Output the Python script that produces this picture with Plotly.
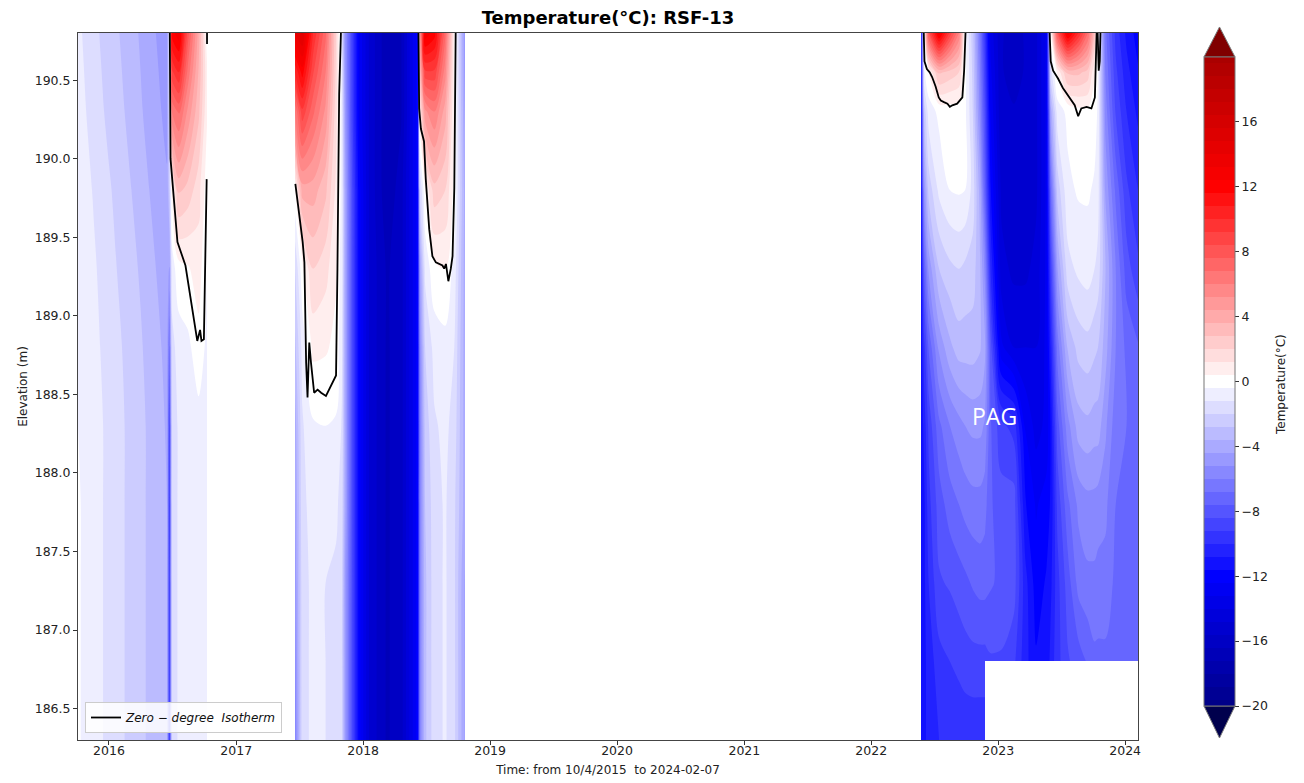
import numpy as np
import pandas as pd
import plotly.graph_objects as go

# ---------------- data ----------------
ELEV = [190.8, 190.55, 190.3, 189.8, 189.3, 188.8, 188.3, 187.8, 187.3, 186.8, 186.3]
ELEV_UPPER = [190.8, 190.55, 190.3, 189.8, 189.3, 188.8, 188.3, 187.8, 187.3, 186.8]

# Segment 1: 2015-10-04 .. 2016-10-10 (profiles top -> bottom at ELEV)
SEG1_DATES = ['2015-10-04', '2015-11-20', '2016-01-01', '2016-02-15', '2016-04-01',
              '2016-05-15', '2016-06-16', '2016-06-23', '2016-06-30', '2016-07-20',
              '2016-08-15', '2016-09-15', '2016-10-10']
SEG1_PROFILES = [
    [-1.0, -0.9, -0.8, -0.6, -0.5, -0.4, -0.4, -0.3, -0.3, -0.3, -0.3],
    [-1.8, -1.7, -1.6, -1.3, -1.1, -1.0, -0.9, -0.9, -0.9, -0.9, -0.9],
    [-2.4, -2.3, -2.2, -1.9, -1.7, -1.5, -1.4, -1.4, -1.4, -1.4, -1.4],
    [-3.0, -2.9, -2.8, -2.5, -2.3, -2.1, -2.0, -2.0, -2.0, -2.0, -2.0],
    [-3.7, -3.6, -3.5, -3.2, -2.9, -2.7, -2.6, -2.6, -2.6, -2.6, -2.6],
    [-4.4, -4.3, -4.2, -3.9, -3.6, -3.4, -3.2, -3.2, -3.2, -3.2, -3.2],
    [-4.8, -4.7, -4.6, -4.3, -4.0, -3.8, -3.7, -3.6, -3.6, -3.6, -3.6],
    [-1.0, -1.2, -1.5, -2.5, -4.5, -7.0, -9.0, -9.5, -9.5, -9.5, -9.5],
    [12.0, 9.0, 6.0, 0.5, -0.8, -1.5, -2.0, -2.0, -2.0, -2.0, -2.0],
    [13.0, 10.0, 7.0, 3.0, 0.1, -0.8, -1.0, -1.0, -1.0, -1.0, -1.0],
    [8.0, 6.5, 5.0, 2.5, 0.3, -0.6, -0.9, -0.9, -0.9, -0.9, -0.9],
    [4.0, 3.5, 3.0, 1.5, 0.8, 0.1, -0.7, -0.8, -0.8, -0.8, -0.8],
    [-0.2, 0.6, 0.5, -0.1, -0.4, -0.6, -0.7, -0.8, -0.8, -0.8, -0.8],
]

# Segment 2: 2017-06-20 .. 2018-10-21
SEG2_DATES = ['2017-06-20', '2017-07-10', '2017-08-10', '2017-09-15', '2017-10-15',
              '2017-11-01', '2017-11-10', '2017-12-01', '2017-12-20', '2018-01-20',
              '2018-03-10', '2018-04-20', '2018-05-20', '2018-06-07', '2018-06-13',
              '2018-06-28', '2018-07-25', '2018-08-25', '2018-09-20', '2018-10-21']
SEG2_PROFILES = [
    [14.0, 10.0, 6.0, 0.3, -2.0, -3.0, -4.0, -4.5, -5.0, -5.5, -6.0],
    [15.0, 12.0, 9.0, 4.0, 0.2, -0.9, -1.3, -1.4, -1.5, -1.5, -1.5],
    [10.0, 8.5, 7.0, 4.0, 2.0, 0.6, -0.5, -0.9, -1.0, -1.0, -1.0],
    [7.0, 6.0, 5.0, 3.0, 1.5, 0.5, -0.4, -0.9, -1.2, -1.2, -1.2],
    [2.0, 1.8, 1.5, 1.0, 0.5, 0.2, -0.5, -1.0, -1.4, -1.6, -1.6],
    [-1.5, -1.2, -1.0, -0.8, -0.9, -1.1, -1.3, -1.6, -1.9, -2.0, -2.0],
    [-5.0, -4.8, -4.5, -4.0, -4.0, -4.0, -4.0, -4.0, -4.5, -4.5, -4.5],
    [-9.0, -9.0, -9.0, -8.5, -8.5, -8.5, -8.5, -8.5, -8.5, -8.5, -8.5],
    [-12.5, -12.5, -12.5, -12.0, -12.0, -12.0, -12.0, -12.0, -12.0, -12.0, -12.0],
    [-15.0, -15.0, -15.0, -15.0, -15.0, -15.0, -15.0, -15.0, -15.0, -15.0, -15.0],
    [-17.0, -17.0, -17.0, -17.0, -16.5, -16.5, -16.5, -16.5, -16.5, -16.5, -16.5],
    [-16.5, -16.5, -16.5, -16.0, -16.0, -16.0, -16.0, -16.0, -16.0, -16.0, -16.0],
    [-13.5, -13.5, -13.5, -13.5, -13.5, -13.5, -13.5, -13.5, -13.5, -13.5, -13.5],
    [-12.0, -12.0, -12.0, -12.0, -12.0, -12.0, -12.0, -12.0, -12.0, -12.0, -12.0],
    [5.0, 3.0, 1.0, -2.0, -4.5, -5.5, -6.0, -6.0, -6.0, -6.0, -6.0],
    [13.0, 9.0, 5.0, 0.3, -1.0, -2.0, -2.5, -2.8, -3.0, -3.0, -3.0],
    [12.0, 9.0, 6.0, 2.5, 0.2, -0.9, -1.3, -1.5, -1.5, -1.5, -1.5],
    [7.0, 5.5, 4.0, 2.0, 0.4, -0.7, -1.0, -1.1, -1.1, -1.1, -1.1],
    [0.5, 0.4, 0.3, 0.1, -0.7, -1.2, -1.5, -1.8, -1.8, -1.8, -1.8],
    [-5.0, -4.8, -4.5, -4.0, -4.0, -4.0, -4.0, -4.0, -4.5, -4.5, -4.5],
]

# Segment 3a: 2022-05-25 .. 2022-11-23, full depth
SEG3A_DATES = ['2022-05-25', '2022-06-02', '2022-06-15', '2022-07-15', '2022-08-15',
               '2022-09-10', '2022-09-28', '2022-10-20', '2022-11-10', '2022-11-23']
SEG3A_PROFILES = [
    [-11.5, -11.5, -11.5, -11.5, -11.5, -11.5, -11.5, -11.5, -11.5, -11.0, -11.0],
    [0.5, -0.5, -2.5, -5.0, -7.5, -9.5, -10.5, -11.0, -11.0, -11.0, -11.0],
    [8.0, 0.3, -0.8, -2.5, -5.0, -7.5, -9.0, -9.5, -10.0, -10.5, -10.5],
    [13.0, 3.0, -0.2, -1.0, -2.8, -5.0, -7.0, -8.0, -8.5, -9.5, -10.0],
    [9.0, 2.5, -0.1, -0.4, -2.2, -3.8, -6.0, -7.2, -8.3, -9.2, -9.8],
    [6.0, 2.0, -0.1, -0.3, -2.0, -3.2, -5.5, -6.8, -8.0, -9.0, -9.8],
    [-0.1, -0.1, -0.2, -0.4, -2.2, -3.2, -5.2, -6.5, -7.8, -8.8, -9.8],
    [-2.5, -2.2, -2.0, -1.5, -2.4, -3.2, -5.0, -6.3, -7.5, -8.7, -9.8],
    [-6.5, -6.0, -5.5, -4.0, -3.5, -3.5, -5.0, -6.3, -7.3, -8.7, -9.8],
    [-9.5, -9.0, -8.5, -7.5, -5.5, -4.2, -5.3, -6.5, -7.3, -8.7, -9.8],
]

# Segment 3b: 2022-11-23 .. 2024-02-07, down to 186.8 m only
SEG3B_DATES = ['2022-11-23', '2022-12-10', '2023-01-10', '2023-02-15', '2023-03-20',
               '2023-04-20', '2023-05-20', '2023-06-01', '2023-06-20', '2023-07-20',
               '2023-08-20', '2023-09-15', '2023-10-05', '2023-10-15', '2023-11-05',
               '2023-12-05', '2024-01-05', '2024-02-07']
SEG3B_PROFILES = [
    [-9.5, -9.0, -8.5, -7.5, -5.5, -4.2, -5.3, -6.5, -7.3, -8.7],
    [-13.5, -13.0, -12.5, -11.5, -10.0, -8.0, -7.5, -7.5, -7.5, -8.5],
    [-15.5, -15.5, -15.5, -15.0, -14.5, -13.0, -9.0, -8.0, -7.8, -8.5],
    [-16.0, -16.0, -15.5, -15.5, -15.0, -14.0, -9.5, -8.0, -8.0, -9.0],
    [-15.5, -15.5, -15.5, -15.0, -15.0, -14.0, -12.5, -11.5, -10.5, -10.5],
    [-15.0, -15.0, -15.0, -15.0, -14.5, -14.0, -13.5, -12.5, -12.0, -11.5],
    [-13.0, -13.0, -13.0, -13.0, -13.0, -13.0, -13.0, -12.0, -11.5, -11.5],
    [0.2, -1.5, -4.0, -7.0, -9.0, -10.5, -11.5, -11.5, -11.0, -10.5],
    [8.0, 0.5, -0.8, -2.5, -4.5, -6.5, -8.0, -9.0, -9.5, -9.5],
    [13.0, 3.0, -0.2, -0.6, -1.5, -3.5, -5.5, -7.0, -8.0, -8.5],
    [10.0, 3.0, 0.1, -0.3, -1.0, -2.5, -4.0, -5.8, -6.5, -8.0],
    [7.0, 2.5, 0.2, -0.3, -0.8, -2.3, -3.8, -5.5, -6.2, -7.5],
    [3.0, 0.5, -0.1, -0.5, -1.2, -2.6, -4.0, -5.5, -6.2, -7.0],
    [-0.3, -0.4, -0.5, -0.8, -1.5, -2.8, -4.0, -5.6, -6.3, -7.0],
    [-6.5, -6.0, -5.5, -4.5, -3.5, -4.0, -5.0, -5.8, -6.3, -7.0],
    [-9.5, -9.0, -8.5, -7.0, -6.0, -6.0, -6.5, -6.8, -7.0, -7.0],
    [-11.0, -10.5, -10.0, -9.0, -8.0, -7.0, -6.8, -6.8, -6.8, -7.0],
    [-12.0, -11.5, -11.0, -10.0, -9.0, -7.5, -7.0, -7.0, -7.0, -7.0],
]

# Zero-degree isotherm (separate pieces)
ISO_2016_X = ['2016-06-24', '2016-06-26', '2016-07-16', '2016-08-08', '2016-09-11',
              '2016-09-19', '2016-09-23', '2016-09-30', '2016-10-08']
ISO_2016_Y = [190.8, 190.0, 189.47, 189.32, 188.84, 188.91, 188.84, 188.85, 189.87]
ISO_2016B_X = ['2016-10-09', '2016-10-09']
ISO_2016B_Y = [190.8, 190.73]
ISO_2017_X = ['2017-06-20', '2017-07-11', '2017-07-16', '2017-07-21', '2017-07-25',
              '2017-07-30', '2017-08-04', '2017-08-13', '2017-08-23', '2017-09-02',
              '2017-09-16', '2017-09-30', '2017-10-15', '2017-10-19', '2017-10-24',
              '2017-10-29']
ISO_2017_Y = [189.84, 189.47, 189.34, 188.70, 188.48, 188.83, 188.70, 188.51, 188.53,
              188.51, 188.49, 188.55, 188.62, 189.30, 190.41, 190.8]
ISO_2018_X = ['2018-06-09', '2018-06-11', '2018-06-16', '2018-06-25', '2018-06-30',
              '2018-07-10', '2018-07-19', '2018-07-29', '2018-08-17', '2018-08-22',
              '2018-08-27', '2018-09-03', '2018-09-10', '2018-09-15', '2018-09-20',
              '2018-09-24']
ISO_2018_Y = [190.8, 190.32, 190.19, 190.11, 189.87, 189.55, 189.38, 189.34, 189.32,
              189.30, 189.33, 189.22, 189.30, 189.38, 189.81, 190.8]
ISO_2022_X = ['2022-06-01', '2022-06-03', '2022-06-10', '2022-06-18', '2022-06-25',
              '2022-07-05', '2022-07-14', '2022-07-20', '2022-07-29', '2022-08-08',
              '2022-08-15', '2022-08-22', '2022-09-05', '2022-09-20', '2022-09-25',
              '2022-09-29']
ISO_2022_Y = [190.8, 190.62, 190.57, 190.55, 190.52, 190.46, 190.39, 190.37, 190.36,
              190.35, 190.33, 190.34, 190.35, 190.39, 190.56, 190.8]
ISO_2023_X = ['2023-05-29', '2023-06-01', '2023-06-08', '2023-06-22', '2023-07-06',
              '2023-07-26', '2023-08-09', '2023-08-19', '2023-08-28', '2023-09-12',
              '2023-09-26', '2023-10-06', '2023-10-11']
ISO_2023_Y = [190.8, 190.62, 190.56, 190.51, 190.45, 190.39, 190.34, 190.27, 190.32,
              190.33, 190.32, 190.39, 190.8]
ISO_2023B_X = ['2023-10-14', '2023-10-17', '2023-10-20', '2023-10-22']
ISO_2023B_Y = [190.8, 190.56, 190.62, 190.8]

X_RANGE = ['2015-10-04', '2024-02-07']
Y_RANGE = [186.3, 190.8]
Y_TICKS = [186.5, 187.0, 187.5, 188.0, 188.5, 189.0, 189.5, 190.0, 190.5]
CB_TICKS = [-20, -16, -12, -8, -4, 0, 4, 8, 12, 16]

# ---------------- colours (matplotlib "seismic", norm -24..24) ----------------
SEISMIC = [(0.0, (0, 0, 77)), (0.25, (0, 0, 255)), (0.5, (255, 255, 255)),
           (0.75, (255, 0, 0)), (1.0, (128, 0, 0))]


def seismic(v):
    f = (v + 24.0) / 48.0
    f = min(max(f, 0.0), 1.0)
    for (f0, c0), (f1, c1) in zip(SEISMIC[:-1], SEISMIC[1:]):
        if f0 <= f <= f1:
            t = (f - f0) / (f1 - f0)
            c = [round(a + (b - a) * t) for a, b in zip(c0, c1)]
            return 'rgb(%d,%d,%d)' % tuple(c)
    return 'rgb(128,0,0)'


# 50 filled bands of 0.8 degC; plotly maps the fill colorscale onto -20 .. 20
LO, HI = -20.0, 20.0
stops = [LO, -12.0, 0.0, 12.0, HI]
colorscale = [[(v - LO) / (HI - LO), seismic(v)] for v in stops]
contours = dict(start=-19.6, end=19.6, size=0.8, coloring='fill', showlines=False)

# page offset of the plot div (body margin)
OFF = 8
W, H = 1304 - OFF, 783 - OFF
ML, MT = 78 - OFF, 33 - OFF
MR, MB = W - (1138 - OFF), H - (740 - OFF)
PW, PH = W - ML - MR, H - MT - MB


def px(xp):  # page pixel -> paper x
    return (xp - OFF - ML) / PW


def py(yp):  # page pixel -> paper y
    return (H - MB - (yp - OFF)) / PH


# align segment borders with whole screen pixels (avoids anti-aliasing seams)
T0, T1 = pd.Timestamp(X_RANGE[0]), pd.Timestamp(X_RANGE[1])
T_STEP = (T1 - T0) / PW
E_STEP = (Y_RANGE[1] - Y_RANGE[0]) / PH


def snap_dates(dates):
    out = list(dates)
    for i in (0, -1):
        t = pd.Timestamp(out[i])
        k = round((t - T0) / T_STEP)
        out[i] = (T0 + k * T_STEP).strftime('%Y-%m-%d %H:%M:%S')
    return out


def snap_elev(elevs):
    out = list(elevs)
    for i in (0, -1):
        k = round((out[i] - Y_RANGE[0]) / E_STEP)
        out[i] = Y_RANGE[0] + k * E_STEP
    return out


CB_BOTTOM, CB_TOP = 706, 57


def seg_trace(dates, elevs, profiles, show):
    z = np.array(profiles).T.tolist()
    tr = go.Contour(x=snap_dates(dates), y=snap_elev(elevs), z=z, colorscale=colorscale,
                    contours=contours,
                    line=dict(width=0, color='rgba(0,0,0,0)', smoothing=0.85),
                    showscale=show, hoverinfo='skip', showlegend=False)
    if show:
        tr.update(colorbar=dict(
            thickness=31, thicknessmode='pixels', len=CB_BOTTOM - CB_TOP, lenmode='pixels',
            x=px(1204), xanchor='left', xpad=0, y=py((CB_BOTTOM + CB_TOP) / 2),
            yanchor='middle', ypad=0,
            outlinewidth=1, outlinecolor='#777', tickvals=CB_TICKS, ticks='outside',
            ticklen=4, tickcolor='#333', tickfont=dict(size=12.5, color='#222',
                                                       family='DejaVu Sans')))
    return tr


fig = go.Figure()
fig.add_trace(seg_trace(SEG1_DATES, ELEV, SEG1_PROFILES, True))
fig.add_trace(seg_trace(SEG2_DATES, ELEV, SEG2_PROFILES, False))
fig.add_trace(seg_trace(SEG3A_DATES, ELEV, SEG3A_PROFILES, False))
fig.add_trace(seg_trace(SEG3B_DATES, ELEV_UPPER, SEG3B_PROFILES, False))

iso_x, iso_y = [], []
for xs, ys in [(ISO_2016_X, ISO_2016_Y), (ISO_2016B_X, ISO_2016B_Y), (ISO_2017_X, ISO_2017_Y),
               (ISO_2018_X, ISO_2018_Y), (ISO_2022_X, ISO_2022_Y), (ISO_2023_X, ISO_2023_Y),
               (ISO_2023B_X, ISO_2023B_Y)]:
    iso_x += list(xs) + [None]
    iso_y += list(ys) + [None]

fig.add_trace(go.Scatter(x=iso_x, y=iso_y, mode='lines', connectgaps=False,
                         line=dict(color='black', width=1.8),
                         name='<i>Zero \u2212 degree\u00a0\u00a0Isotherm</i>',
                         showlegend=True, hoverinfo='skip'))

# colorbar extension triangles
shapes = [
    dict(type='path', xref='paper', yref='paper',
         path='M %f,%f L %f,%f L %f,%f Z' % (px(1204), py(CB_TOP), px(1235), py(CB_TOP),
                                              px(1219.5), py(CB_TOP - 30)),
         fillcolor=seismic(24), line=dict(color='#777', width=1)),
    dict(type='path', xref='paper', yref='paper',
         path='M %f,%f L %f,%f L %f,%f Z' % (px(1204), py(CB_BOTTOM), px(1235), py(CB_BOTTOM),
                                              px(1219.5), py(CB_BOTTOM + 32)),
         fillcolor=seismic(-24), line=dict(color='#777', width=1)),
]

annotations = [
    dict(text='PAG', x='2022-12-22', y=188.36, xref='x', yref='y', showarrow=False,
         font=dict(family='Open Sans', size=23, color='white')),
    dict(text='Temperature(°C)', x=px(1281), y=py(385), xref='paper', yref='paper',
         xanchor='center', yanchor='middle',
         textangle=-90, showarrow=False, font=dict(family='DejaVu Sans', size=12, color='#222')),
]

fig.update_layout(
    width=W, height=H,
    margin=dict(l=ML, r=MR, t=MT, b=MB, autoexpand=False),
    paper_bgcolor='white', plot_bgcolor='white',
    font=dict(family='DejaVu Sans', size=12.5, color='#222'),
    title=dict(text='<b>Temperature(°C): RSF-13</b>', xref='paper', x=0.5, xanchor='center',
               yref='container', y=(H - (18 - OFF)) / H, yanchor='middle',
               font=dict(family='DejaVu Sans', size=18, color='black')),
    xaxis=dict(type='date', range=X_RANGE, tickformat='%Y',
               dtick='M12', tick0='2016-01-01', ticks='outside', ticklen=4,
               tickcolor='#333', showgrid=False, zeroline=False, showline=True,
               linecolor='#444', linewidth=1, mirror=True, automargin=False,
               ticklabelstandoff=-5,
               title=dict(text='Time: from 10/4/2015  to 2024-02-07', standoff=8,
                          font=dict(size=12))),
    yaxis=dict(range=Y_RANGE, tickvals=Y_TICKS, tickformat='.1f', ticks='outside',
               ticklen=4, tickcolor='#333', showgrid=False, zeroline=False, showline=True,
               linecolor='#444', linewidth=1, mirror=True, automargin=False,
               title=dict(text='Elevation (m)', standoff=4, font=dict(size=12))),
    legend=dict(x=px(85), y=py(733), xanchor='left', yanchor='bottom',
                bgcolor='rgba(255,255,255,0.85)', bordercolor='#ccc', borderwidth=1,
                font=dict(size=12, color='#111'), itemwidth=30),
    shapes=shapes,
    annotations=annotations,
)

fig.write_html('out.html')
